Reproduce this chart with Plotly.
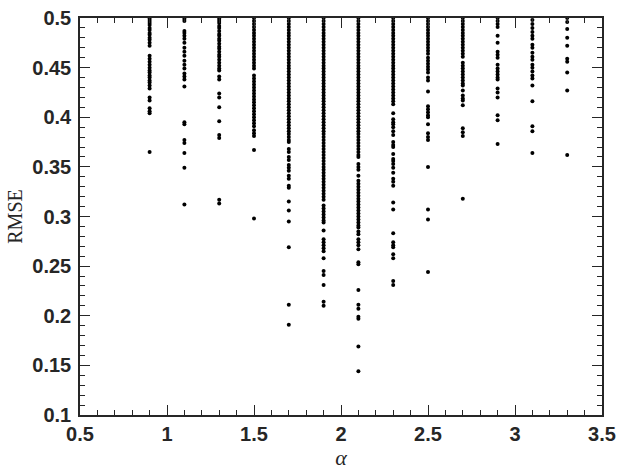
import pandas as pd
import plotly.express as px

# alpha columns and the RMSE values (one list per alpha)
alphas = [0.9, 1.1, 1.3, 1.5, 1.7, 1.9, 2.1, 2.3, 2.5, 2.7, 2.9, 3.1, 3.3]

rmse_09 = [0.499, 0.497, 0.495, 0.493, 0.490, 0.488, 0.485, 0.483, 0.480, 0.478, 0.475, 0.472,
           0.462, 0.459, 0.456, 0.453, 0.450, 0.447, 0.445, 0.442, 0.440, 0.437, 0.435, 0.432,
           0.429, 0.420, 0.417, 0.409, 0.406, 0.404, 0.365]
rmse_11 = [0.499, 0.497, 0.487, 0.485, 0.482, 0.479, 0.475, 0.470, 0.466, 0.462, 0.457, 0.453,
           0.449, 0.444, 0.441, 0.438, 0.431, 0.395, 0.393, 0.377, 0.374, 0.364, 0.349, 0.312]
rmse_13 = [0.499, 0.497, 0.495, 0.492, 0.490, 0.487, 0.484, 0.482, 0.479, 0.477, 0.474, 0.471,
           0.469, 0.466, 0.463, 0.461, 0.458, 0.455, 0.452, 0.449, 0.447, 0.441, 0.438, 0.424,
           0.420, 0.410, 0.396, 0.382, 0.379, 0.317, 0.313]
rmse_15 = [0.500, 0.497, 0.494, 0.491, 0.488, 0.485, 0.482, 0.479, 0.476, 0.473, 0.470, 0.467,
           0.464, 0.461, 0.458, 0.455, 0.452, 0.449, 0.442, 0.439, 0.436, 0.433, 0.430, 0.427,
           0.424, 0.421, 0.418, 0.415, 0.412, 0.409, 0.406, 0.403, 0.400, 0.397, 0.394, 0.391,
           0.387, 0.384, 0.381, 0.367, 0.298]
rmse_17 = [0.500, 0.497, 0.494, 0.491, 0.488, 0.485, 0.482, 0.479, 0.476, 0.473, 0.470, 0.467,
           0.464, 0.461, 0.458, 0.455, 0.452, 0.449, 0.446, 0.443, 0.440, 0.437, 0.434, 0.431,
           0.428, 0.425, 0.422, 0.419, 0.416, 0.413, 0.410, 0.407, 0.404, 0.401, 0.398, 0.395,
           0.392, 0.389, 0.386, 0.383, 0.380, 0.377, 0.375, 0.368, 0.365, 0.360, 0.357, 0.352,
           0.349, 0.346, 0.341, 0.338, 0.331, 0.329, 0.315, 0.306, 0.295, 0.269, 0.211, 0.191]
rmse_19 = [0.500, 0.497, 0.494, 0.491, 0.488, 0.485, 0.482, 0.479, 0.476, 0.473, 0.470, 0.467,
           0.464, 0.461, 0.458, 0.455, 0.452, 0.449, 0.446, 0.443, 0.440, 0.437, 0.434, 0.431,
           0.428, 0.425, 0.422, 0.419, 0.416, 0.413, 0.410, 0.407, 0.404, 0.401, 0.398, 0.395,
           0.392, 0.389, 0.386, 0.383, 0.380, 0.377, 0.374, 0.371, 0.368, 0.365, 0.362, 0.359,
           0.356, 0.353, 0.350, 0.347, 0.344, 0.341, 0.338, 0.335, 0.332, 0.329, 0.326, 0.323,
           0.320, 0.317, 0.311, 0.308, 0.305, 0.302, 0.299, 0.296, 0.294, 0.286, 0.277, 0.274,
           0.271, 0.268, 0.265, 0.258, 0.245, 0.241, 0.231, 0.214, 0.210]
rmse_21 = [0.500, 0.497, 0.494, 0.491, 0.488, 0.485, 0.482, 0.479, 0.476, 0.473, 0.470, 0.467,
           0.464, 0.461, 0.458, 0.455, 0.452, 0.449, 0.446, 0.443, 0.440, 0.437, 0.434, 0.431,
           0.428, 0.425, 0.422, 0.419, 0.416, 0.413, 0.410, 0.407, 0.404, 0.401, 0.398, 0.395,
           0.392, 0.389, 0.386, 0.383, 0.380, 0.377, 0.374, 0.371, 0.368, 0.365, 0.362, 0.360,
           0.353, 0.350, 0.347, 0.341, 0.336, 0.333, 0.330, 0.327, 0.324, 0.321, 0.318, 0.315,
           0.312, 0.309, 0.306, 0.303, 0.300, 0.297, 0.294, 0.291, 0.289, 0.285, 0.282, 0.277,
           0.274, 0.271, 0.267, 0.254, 0.252, 0.226, 0.211, 0.207, 0.199, 0.197, 0.169, 0.144]
rmse_23 = [0.500, 0.497, 0.494, 0.491, 0.488, 0.485, 0.482, 0.479, 0.476, 0.473, 0.470, 0.467,
           0.464, 0.461, 0.458, 0.455, 0.452, 0.449, 0.446, 0.443, 0.440, 0.437, 0.434, 0.431,
           0.428, 0.425, 0.422, 0.419, 0.416, 0.413, 0.404, 0.398, 0.395, 0.393, 0.390, 0.386,
           0.382, 0.375, 0.372, 0.370, 0.363, 0.358, 0.356, 0.353, 0.349, 0.344, 0.338, 0.335,
           0.331, 0.314, 0.307, 0.283, 0.274, 0.271, 0.269, 0.262, 0.258, 0.235, 0.231]
rmse_25 = [0.500, 0.497, 0.494, 0.491, 0.488, 0.485, 0.482, 0.479, 0.476, 0.473, 0.470, 0.467,
           0.464, 0.460, 0.457, 0.454, 0.451, 0.448, 0.445, 0.440, 0.437, 0.426, 0.411, 0.408,
           0.405, 0.402, 0.400, 0.393, 0.384, 0.380, 0.377, 0.350, 0.307, 0.297, 0.244]
rmse_27 = [0.500, 0.497, 0.494, 0.491, 0.488, 0.485, 0.482, 0.479, 0.476, 0.473, 0.470, 0.467,
           0.464, 0.461, 0.455, 0.452, 0.449, 0.446, 0.443, 0.440, 0.437, 0.434, 0.432, 0.427,
           0.422, 0.419, 0.417, 0.412, 0.389, 0.385, 0.381, 0.318]
rmse_29 = [0.500, 0.497, 0.494, 0.491, 0.482, 0.475, 0.466, 0.463, 0.460, 0.453, 0.449, 0.446,
           0.443, 0.440, 0.438, 0.429, 0.425, 0.420, 0.402, 0.397, 0.373]
rmse_31 = [0.498, 0.494, 0.490, 0.486, 0.482, 0.479, 0.473, 0.470, 0.465, 0.461, 0.458, 0.453,
           0.450, 0.446, 0.442, 0.439, 0.432, 0.416, 0.391, 0.386, 0.364]
rmse_33 = [0.500, 0.496, 0.489, 0.480, 0.472, 0.459, 0.456, 0.445, 0.427, 0.362]

columns = [rmse_09, rmse_11, rmse_13, rmse_15, rmse_17, rmse_19, rmse_21,
           rmse_23, rmse_25, rmse_27, rmse_29, rmse_31, rmse_33]

rows = []
for a, vals in zip(alphas, columns):
    for v in vals:
        rows.append({"alpha": a, "rmse": v})
df = pd.DataFrame(rows)

fig = px.scatter(df, x="alpha", y="rmse")
fig.update_traces(marker=dict(color="black", size=4, line=dict(width=0)))

axis_color = "#262626"
tick_font = dict(family="Liberation Sans", size=20, color=axis_color, weight="bold")

fig.update_layout(
    width=623,
    height=473,
    paper_bgcolor="white",
    plot_bgcolor="white",
    margin=dict(l=80, r=15, t=7, b=57),
    showlegend=False,
)
fig.update_xaxes(
    range=[0.5, 3.5],
    dtick=0.5,
    tick0=0.5,
    ticks="inside",
    ticklen=10,
    tickwidth=1.2,
    tickcolor=axis_color,
    minor=dict(dtick=0.1, ticks="inside", ticklen=5, tickcolor=axis_color, tickwidth=1),
    showline=True,
    linecolor=axis_color,
    linewidth=1.5,
    mirror="ticks",
    showgrid=False,
    zeroline=False,
    tickfont=tick_font,
    ticklabeloverflow="allow",
    title=dict(text="<i>α</i>", font=dict(family="Liberation Serif", size=22, color=axis_color),
               standoff=6),
)
fig.update_yaxes(
    range=[0.1, 0.5],
    dtick=0.05,
    tick0=0.1,
    ticks="inside",
    ticklen=10,
    tickwidth=1.2,
    tickcolor=axis_color,
    minor=dict(dtick=0.01, ticks="inside", ticklen=5, tickcolor=axis_color, tickwidth=1),
    showline=True,
    linecolor=axis_color,
    linewidth=1.5,
    mirror="ticks",
    showgrid=False,
    zeroline=False,
    tickfont=tick_font,
    ticklabeloverflow="allow",
    ticklabelstandoff=3,
    title=dict(text="RMSE", font=dict(family="Liberation Serif", size=20, color=axis_color),
               standoff=4),
)

# page body has a default 8px margin; drop it so the figure sits at 0,0
fig.write_html(
    "out.html",
    config={"displayModeBar": False},
    post_script="document.body.style.margin='0';",
)
